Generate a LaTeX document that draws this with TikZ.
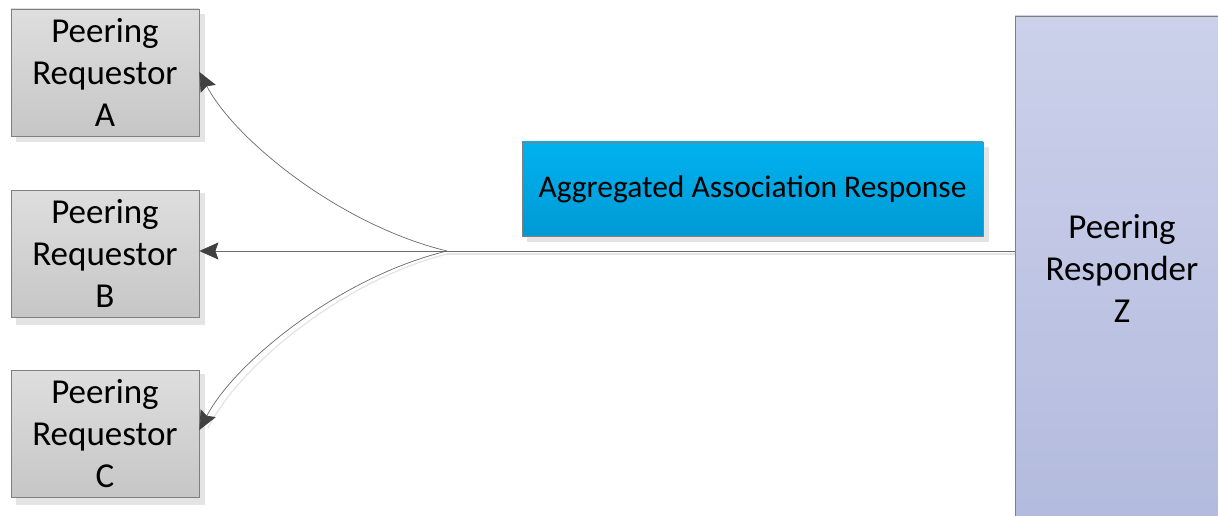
\documentclass[tikz,border=0pt]{standalone}
\usepackage{fontspec}
\setmainfont{Carlito}
\usetikzlibrary{arrows.meta}
\definecolor{boxborder}{HTML}{7F7F7F}
\definecolor{graytop}{HTML}{DEDEDE}
\definecolor{graybot}{HTML}{C6C6C6}
\definecolor{bluetop}{HTML}{00B2F0}
\definecolor{bluebot}{HTML}{009AD4}
\definecolor{lavtop}{HTML}{CCD1EA}
\definecolor{lavbot}{HTML}{B3BBDE}
\definecolor{shadowc}{HTML}{E4E4E4}
\definecolor{linec}{HTML}{6A6A6A}
\definecolor{tipc}{HTML}{404040}
\tikzset{
  reqbox/.style={draw=boxborder, line width=0.8pt, top color=graytop, bottom color=graybot,
    minimum width=188pt, minimum height=127pt, inner sep=0pt, align=center,
    font=\fontsize{35}{42}\selectfont},
  msgbox/.style={draw=boxborder, line width=0.8pt, top color=bluetop, bottom color=bluebot,
    minimum width=461pt, minimum height=94pt, inner sep=0pt, align=center,
    font=\fontsize{31.5}{38}\selectfont},
  respbox/.style={draw=boxborder, line width=0.8pt, top color=lavtop, bottom color=lavbot,
    minimum width=214pt, minimum height=504pt, inner sep=0pt, align=center,
    font=\fontsize{35}{42}\selectfont},
  shad/.style={fill=shadowc, draw=none},
  conn/.style={draw=linec, line width=0.7pt},
  connshad/.style={draw=shadowc, line width=1.2pt},
  arr/.style={conn, -{Stealth[length=19pt, width=17pt, inset=3pt, color=tipc, fill=tipc]}},
}
\begin{document}
\begin{tikzpicture}[x=1pt, y=-1pt]
\useasboundingbox (0,0) rectangle (1218,516);
\clip (0,0) rectangle (1218,516);
\fill[white] (0,0) rectangle (1218,516);
% shadows
\fill[shad] (16,14) rectangle (205,142);
\fill[shad] (16,193) rectangle (205,325);
\fill[shad] (16,374) rectangle (205,505);
\fill[shad] (527,147) rectangle (989,242);
\fill[shad] (1020,21) rectangle (1240,530);
% nodes
\node[reqbox] (A) at (105,72.5) {Peering\\Requestor\\A};
\node[reqbox] (B) at (105,253.5) {Peering\\Requestor\\B};
\node[reqbox] (C) at (105,434) {Peering\\Requestor\\C};
\node[msgbox] (M) at (752.5,189) {Aggregated Association Response};
\node[respbox] (Z) at (1122,268) {Peering\\Responder\\Z};
\coordinate (J) at (447,251);
% connector shadows
\draw[connshad] ([yshift=-3pt]Z.west |- J) -- ([yshift=-3pt]J);
\draw[connshad] ([yshift=-3pt]J) .. controls (345,280) and (240,364) .. (208,428);
% connectors
\draw[conn] (Z.west |- J) -- (J);
\draw[arr] (J) .. controls (340,225) and (235,140) .. (A.east |- 0,72);
\draw[arr] (J) -- (B.east |- J);
\draw[arr] (J) .. controls (340,277) and (235,362) .. (C.east |- 0,430);
\end{tikzpicture}
\end{document}
